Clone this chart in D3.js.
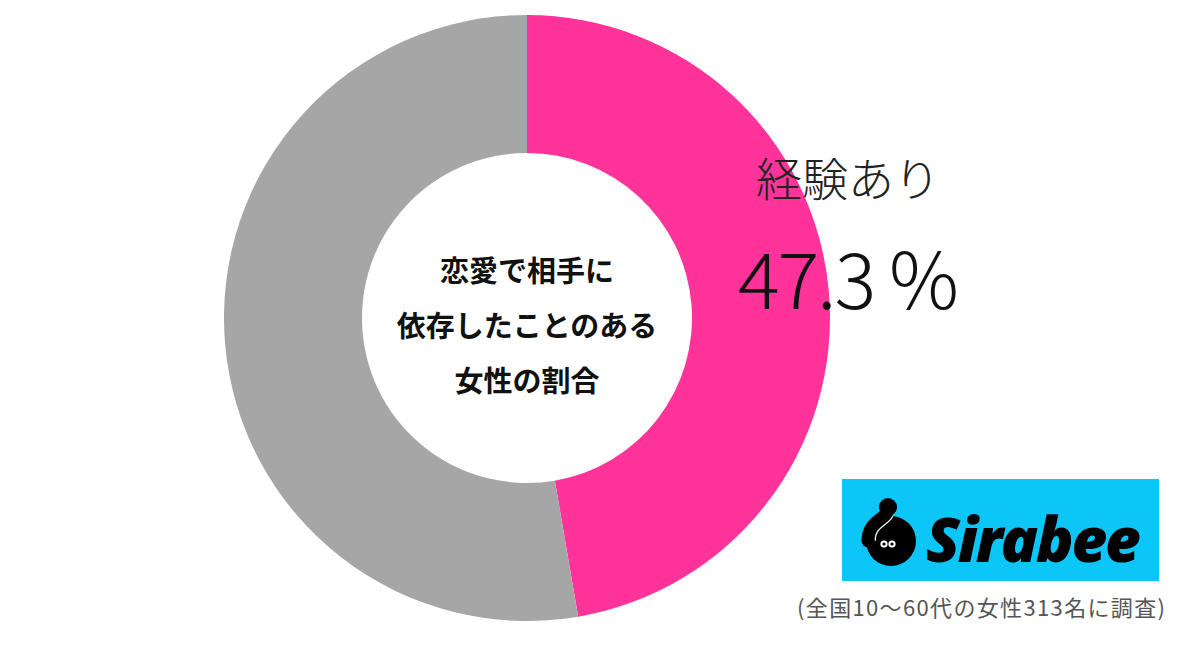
<!DOCTYPE html>
<html><head><meta charset="utf-8">
<script src="https://cdn.jsdelivr.net/npm/d3@7"></script>
<style>body{margin:0;background:#fff}svg{display:block}</style>
</head><body>
<svg id="c" width="1200" height="653"></svg>
<script>
const categories = ["経験あり", "経験なし"];
const values = [47.3, 52.7];
const colors = ["#FF3399", "#A6A6A6"];
const centerLines = ["恋愛で相手に", "依存したことのある", "女性の割合"];
const note = "(全国10～60代の女性313名に調査)";

const svg = d3.select("#c");
const cx = 527, cy = 318, rOut = 303, rIn = 165;
const pie = d3.pie().sort(null).value(d => d)(values);
const arc = d3.arc().innerRadius(rIn).outerRadius(rOut);
const g = svg.append("g").attr("transform", `translate(${cx},${cy})`);
g.selectAll("path").data(pie).enter().append("path")
  .attr("d", arc).attr("fill", (d, i) => colors[i]);

// center text
const ct = svg.append("g").attr("font-family", "'Noto Sans CJK JP'").attr("font-weight", "bold")
  .attr("font-size", 29).attr("fill", "#111").attr("text-anchor", "middle");
centerLines.forEach((t, i) => ct.append("text").attr("x", cx).attr("y", 282 + i * 55).text(t));

// label
svg.append("text").attr("x", 848).attr("y", 196).attr("text-anchor", "middle")
  .attr("font-family", "'Noto Sans CJK JP'").attr("font-weight", 300).attr("font-size", 46)
  .attr("fill", "#222").text(categories[0]);
svg.append("text").attr("x", 738).attr("y", 309)
  .attr("font-family", "'Noto Sans CJK JP'").attr("font-weight", 300).attr("font-size", 78)
  .attr("fill", "#111").attr("textLength", 221).text(values[0] + " %");

// logo
const lg = svg.append("g");
lg.append("rect").attr("x", 842).attr("y", 479).attr("width", 317).attr("height", 102).attr("fill", "#0DC6F8");
const defs = svg.append("defs");
defs.append("clipPath").attr("id", "bodyclip").append("circle").attr("cx", 891).attr("cy", 541).attr("r", 25);
lg.append("circle").attr("cx", 891).attr("cy", 541).attr("r", 25).attr("fill", "#000");
const neck = "M888,507 C888,521 868,519 868,541";
lg.append("path").attr("d", neck).attr("fill", "none").attr("stroke", "#E8F8FF").attr("stroke-width", 15.5)
  .attr("clip-path", "url(#bodyclip)");
lg.append("path").attr("d", neck).attr("fill", "none").attr("stroke", "#000").attr("stroke-width", 13);
lg.append("circle").attr("cx", 888).attr("cy", 507).attr("r", 9).attr("fill", "#000");
lg.append("circle").attr("cx", 868).attr("cy", 541).attr("r", 6.5).attr("fill", "#000");
[884, 892].forEach(x => {
  lg.append("circle").attr("cx", x).attr("cy", 544).attr("r", 3.6).attr("fill", "#fff");
  lg.append("circle").attr("cx", x).attr("cy", 544).attr("r", 1.6).attr("fill", "#000");
});
lg.append("text").attr("x", 926).attr("y", 562).attr("font-family", "'Open Sans'").attr("font-weight", 800)
  .attr("font-style", "italic").attr("font-size", 62).attr("fill", "#000").attr("textLength", 215).text("Sirabee");

svg.append("text").attr("x", 797).attr("y", 616)
  .attr("font-family", "'Noto Sans CJK JP'").attr("font-size", 22).attr("fill", "#555")
  .attr("textLength", 368).text(note);
</script>
</body></html>
